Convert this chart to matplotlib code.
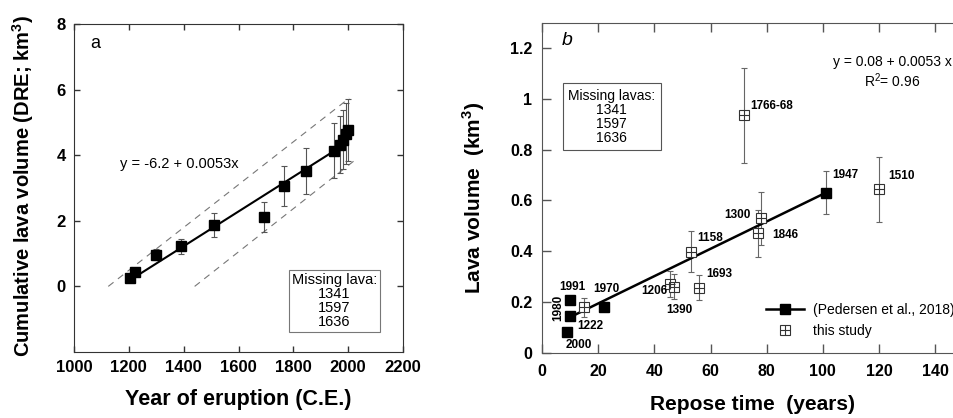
import numpy as np
import matplotlib
matplotlib.use('Agg')
import matplotlib.pyplot as plt
from matplotlib.lines import Line2D

plt.rcParams['font.family'] = ['Liberation Sans', 'DejaVu Sans']

# panel a: cumulative volume vs year
years_a = [1206, 1222, 1300, 1390, 1510, 1693, 1766, 1846, 1947, 1970, 1980, 1991, 2000]
cumvol_a = [0.27, 0.43, 0.97, 1.22, 1.87, 2.12, 3.06, 3.53, 4.14, 4.32, 4.47, 4.65, 4.76]
err_a = [0, 0, 0.18, 0.24, 0.37, 0.45, 0.61, 0.70, 0.83, 0.86, 0.90, 0.93, 0.95]
fit_a_x = [1206, 1947]
fit_a_y = [0.20, 4.12]
upper_a_x = [1125, 2004]
upper_a_y = [0.0, 5.74]
lower_a_x = [1440, 2028]
lower_a_y = [0.0, 3.87]
missing_a = ['1341', '1597', '1636']

# panel b: lava volume vs repose time
ped_labels = ['2000', '1980', '1991', '1970', '1947']
ped_x = [9, 10, 10, 22, 101]
ped_y = [0.08, 0.144, 0.207, 0.179, 0.631]
ped_err = [0, 0, 0, 0, 0.085]

new_labels = ['1222', '1206', '1390', '1693', '1158', '1846', '1300', '1766-68', '1510']
new_x = [15, 45.5, 47, 56, 53, 77, 77.8, 72, 120]
new_y = [0.179, 0.27, 0.26, 0.256, 0.398, 0.47, 0.53, 0.936, 0.643]
new_err = [0.037, 0.05, 0.05, 0.05, 0.08, 0.094, 0.105, 0.187, 0.128]

fit_b_x = [10, 101]
fit_b_y = [0.14, 0.63]

fig = plt.figure(figsize=(9.54, 4.18), dpi=100)

# ---------------- panel a
ax1 = fig.add_axes([74/954, 1-352/418, 329/954, 328/418])
ax1.plot(upper_a_x, upper_a_y, color='#777777', lw=0.8, dashes=(6, 5))
ax1.plot(lower_a_x, lower_a_y, color='#777777', lw=0.8, dashes=(6, 5))
ax1.errorbar(years_a, cumvol_a, yerr=err_a, fmt='none', ecolor='#555555',
             elinewidth=0.8, capsize=2.5, capthick=0.8)
ax1.plot(fit_a_x, fit_a_y, color='black', lw=1.5)
ax1.plot(years_a, cumvol_a, 's', color='black', ms=6.5)
ax1.set_xlim(1000, 2200)
ax1.set_ylim(-2, 8)
ax1.set_xticks(range(1000, 2201, 200))
ax1.set_yticks([0, 2, 4, 6, 8])
ax1.tick_params(direction='in', top=True, right=True, length=4.5, width=1,
                color='#333333', labelsize=12, pad=6)
for lab in ax1.get_xticklabels() + ax1.get_yticklabels():
    lab.set_fontweight('bold')
for s in ax1.spines.values():
    s.set_color('#333333')
ax1.set_xlabel('Year of eruption (C.E.)', fontsize=15.5, fontweight='bold', labelpad=10)
ax1.set_ylabel('Cumulative lava volume (DRE; km$^\\mathregular{3}$)', fontsize=14.5,
               fontweight='bold')
ax1.yaxis.set_label_coords(-0.115, 0.506)
ax1.text(1060, 7.4, 'a', fontsize=13, ha='left', va='center')
ax1.text(1167, 3.72, 'y = -6.2 + 0.0053x', fontsize=10.5, ha='left', va='center')
ax1.text(1950, -0.45, 'Missing lava:\n' + '\n'.join(missing_a), fontsize=10.5,
         ha='center', va='center', linespacing=1.0,
         bbox=dict(boxstyle='square,pad=0.2', fc='white', ec='#777777', lw=0.8))

# ---------------- panel b
ax2 = fig.add_axes([542/954, 1-352.7/418, 150*2.8085/954, 330/418])
ax2.errorbar(new_x, new_y, yerr=new_err, fmt='none', ecolor='#666666',
             elinewidth=0.8, capsize=2.5, capthick=0.8)
ax2.errorbar(ped_x, ped_y, yerr=ped_err, fmt='none', ecolor='#666666',
             elinewidth=0.8, capsize=2.5, capthick=0.8)
ax2.plot(fit_b_x, fit_b_y, color='black', lw=1.8)
ax2.plot(ped_x, ped_y, 's', color='black', ms=6.5)
h_sq, = ax2.plot(new_x, new_y, 's', mfc='white', mec='#333333', mew=0.8, ms=6.5)
h_pl, = ax2.plot(new_x, new_y, '+', color='#333333', mew=0.8, ms=6.5)
ax2.set_xlim(0, 150)
ax2.set_ylim(0, 1.3)
ax2.set_xticks(range(0, 141, 20))
ax2.set_yticks([0, 0.2, 0.4, 0.6, 0.8, 1.0, 1.2])
ax2.set_yticklabels(['0', '0.2', '0.4', '0.6', '0.8', '1', '1.2'])
ax2.tick_params(direction='in', top=True, right=True, length=6.5, width=1,
                color='#555555', labelsize=11.5)
ax2.tick_params(axis='x', pad=8)
ax2.tick_params(axis='y', pad=7)
for lab in ax2.get_xticklabels() + ax2.get_yticklabels():
    lab.set_fontweight('bold')
for s in ax2.spines.values():
    s.set_color('#555555')
ax2.set_xlabel('Repose time  (years)', fontsize=15, fontweight='bold', labelpad=12)
ax2.set_ylabel('Lava volume  (km$^\\mathregular{3}$)', fontsize=15, fontweight='bold')
ax2.yaxis.set_label_coords(-0.13, 0.47)
ax2.text(7, 1.23, 'b', fontsize=14, style='italic', ha='left', va='center')
ax2.text(124.6, 1.105, 'y = 0.08 + 0.0053 x\nR$^\\mathregular{2}$= 0.96', fontsize=10,
         ha='center', va='center', multialignment='center', linespacing=1.15)
ax2.text(24.8, 0.929, 'Missing lavas:\n' + '\n'.join(missing_a), fontsize=10,
         ha='center', va='center', linespacing=1.0,
         bbox=dict(boxstyle='square,pad=0.4', fc='white', ec='#555555', lw=0.8))

# point labels (offsets in pixels)
label_style = {
    '2000': ((-2, -13), 'left', 0),
    '1980': ((-12, 8), 'center', 90),
    '1991': ((-11, 13), 'left', 0),
    '1970': ((-11, 18), 'left', 0),
    '1947': ((7, 18), 'left', 0),
    '1222': ((-7, -19), 'left', 0),
    '1206': ((-2, -7), 'right', 0),
    '1390': ((5, -23), 'center', 0),
    '1693': ((7, 14), 'left', 0),
    '1158': ((6, 14), 'left', 0),
    '1846': ((14, -2), 'left', 0),
    '1300': ((-10, 3), 'right', 0),
    '1766-68': ((6, 9), 'left', 0),
    '1510': ((9, 13), 'left', 0),
}
for lab, x, y in zip(ped_labels + new_labels, ped_x + new_x, ped_y + new_y):
    off, ha, rot = label_style[lab]
    ax2.annotate(lab, (x, y), xytext=off, textcoords='offset pixels', fontsize=8.5,
                 fontweight='bold', ha=ha, va='center', rotation=rot)

h_ped = Line2D([], [], color='black', lw=1.8, marker='s', ms=6.5)
fig.legend([h_ped, (h_sq, h_pl)], ['(Pedersen et al., 2018)', 'this study'],
           loc='upper left', bbox_to_anchor=(766/954, 1-303/418), frameon=False,
           fontsize=10, handlelength=2.75, handletextpad=0.6, labelspacing=0.5,
           borderpad=0, borderaxespad=0)

fig.savefig('out.png', dpi=100)
